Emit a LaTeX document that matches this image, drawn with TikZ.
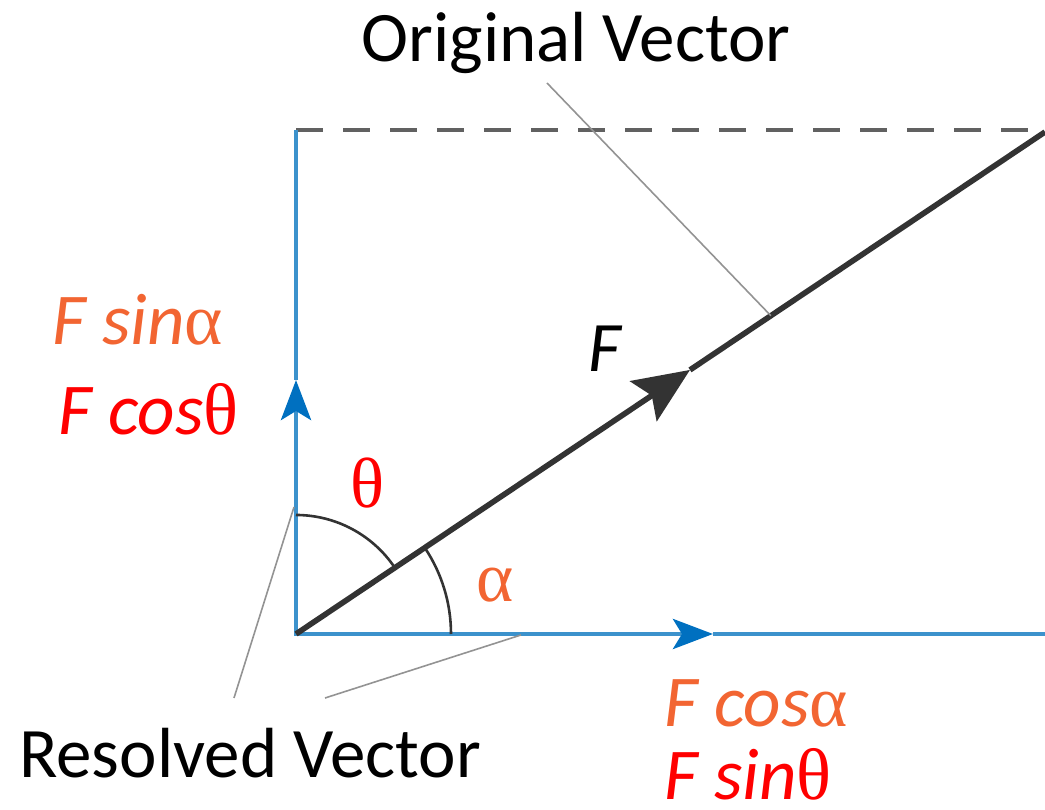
\documentclass[tikz,border=0pt]{standalone}
\usepackage{fontspec}
\setmainfont{Carlito}
\newfontfamily\greekfont{Liberation Serif}
\usetikzlibrary{arrows.meta,calc}
\definecolor{axisblue}{RGB}{60,146,204}
\definecolor{tipblue}{RGB}{0,112,192}
\definecolor{vecgray}{RGB}{51,51,51}
\definecolor{comporange}{RGB}{242,101,50}
\definecolor{compred}{RGB}{255,0,0}
\newcommand{\gk}[1]{{\greekfont\upshape #1}}

\begin{document}
\begin{tikzpicture}[x=1pt, y=1pt,
  comp/.style={line width=4.8pt, axisblue},
  comparrows/.style={{Stealth[length=40pt, width=30pt, inset=9pt, color=tipblue]}-{Stealth[length=40pt, width=30pt, inset=9pt, color=tipblue]}},
  vec/.style={line width=5.6pt, vecgray},
  guide/.style={line width=3.4pt, black!62, dash pattern=on 27pt off 20pt},
  leader/.style={line width=1.6pt, gray!85},
  arcline/.style={line width=2.6pt, vecgray},
  lbl/.style={font=\fontsize{71}{80}\selectfont, inner sep=0pt, anchor=base},
  eqn/.style={font=\fontsize{73}{80}\selectfont\itshape, inner sep=0pt, anchor=base west}]
\useasboundingbox (0,0) rectangle (1045,810);
% frame of the resolution
\coordinate (O) at (296,176);
\coordinate (Vmid) at (296,430);
\coordinate (Vtop) at (296,680);
\coordinate (Hmid) at (713,176);
\coordinate (Hend) at (1045,176);
\coordinate (Dend) at (1045,680);
\coordinate (Ftip) at (1045,678);
\coordinate (Fmid) at ($(O)!0.526!(Ftip)$);
\draw[guide] (Vtop) -- (Dend);
\draw[comp, comparrows] (Vmid) |- (Hmid);
\draw[comp] (Vmid) -- (Vtop);
\draw[comp] (Hmid) -- (Hend);
% angles
\draw[arcline] (O) ++(90:119) arc[start angle=90, end angle=33.8, radius=119];
\draw[arcline] (O) ++(0:155) arc[start angle=0, end angle=33.8, radius=155];
% original vector
\draw[vec, -{Stealth[length=56pt, width=48pt, inset=10pt]}] (O) -- (Fmid);
\draw[vec] (Fmid) -- (Ftip);
% labels
\node[lbl] (orig) at (576,748) {Original Vector};
\node[lbl] (res) at (250,32) {Resolved Vector};
\node[lbl, font=\fontsize{71}{80}\selectfont\itshape] (F) at (605,438) {F};
\node[eqn, comporange] (fsina) at (52,465) {F sin\gk{α}};
\node[eqn, compred] (fcost) at (58,375) {F cos\gk{θ}};
\node[eqn, comporange] (fcosa) at (664,83) {F cos\gk{α}};
\node[eqn, compred] (fsint) at (664,10) {F sin\gk{θ}};
\node[font=\fontsize{71}{80}\selectfont\greekfont, compred, inner sep=0pt] (theta) at (368,327) {θ};
\node[font=\fontsize{71}{80}\selectfont\greekfont, comporange, inner sep=0pt] (alpha) at (495,225) {α};
% leader lines
\coordinate (origA) at (547,727);
\coordinate (origB) at ($(O)!0.634!(Ftip)$);
\coordinate (resA) at (234,112);
\coordinate (resB) at (294,303);
\coordinate (resC) at (325,112);
\coordinate (resD) at (521,175);
\draw[leader] (origA) -- (origB);
\draw[leader] (resA) -- (resB);
\draw[leader] (resC) -- (resD);
\end{tikzpicture}
\end{document}
